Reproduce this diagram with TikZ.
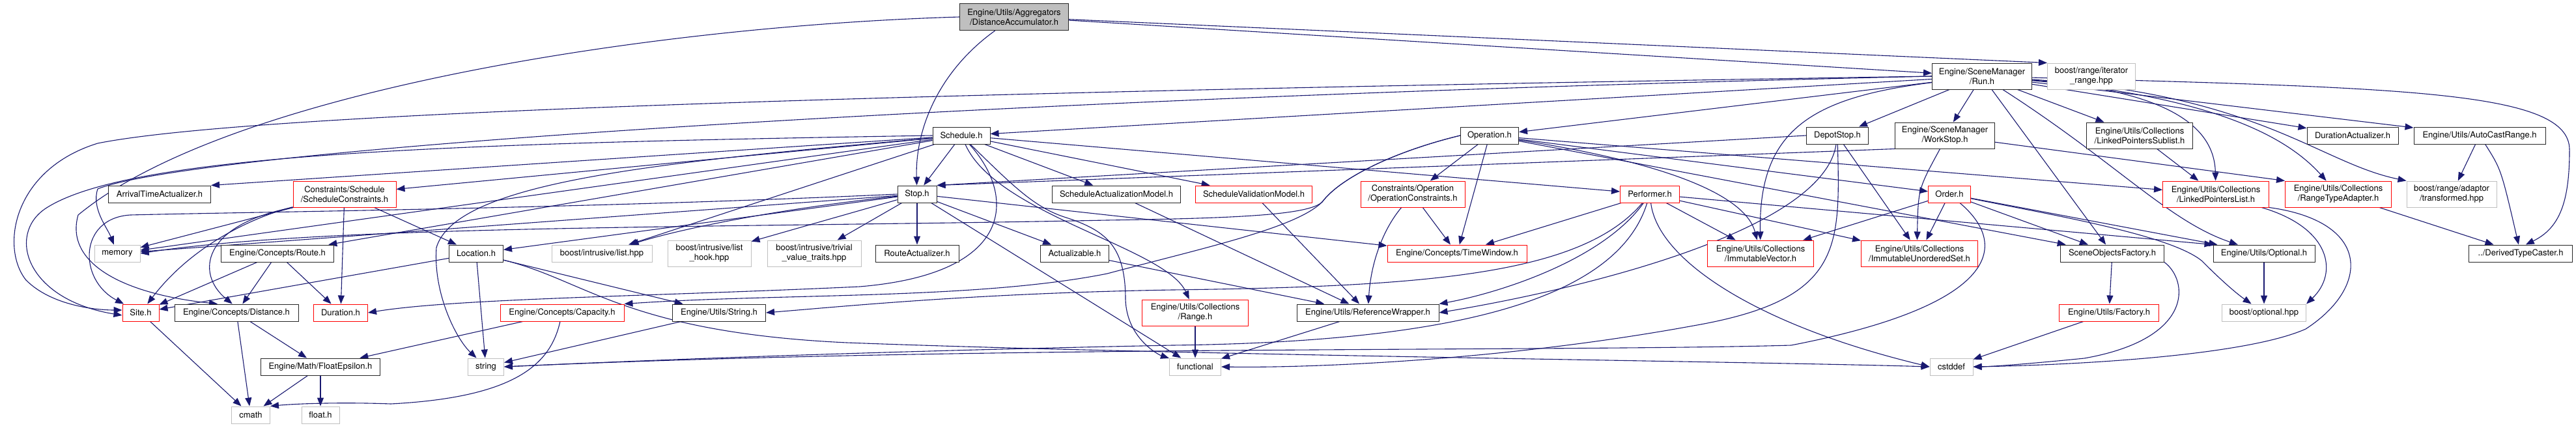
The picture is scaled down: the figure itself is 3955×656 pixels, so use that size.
\documentclass[tikz,border=0pt]{standalone}
\usepackage{fontspec}
\setmainfont{TeX Gyre Heros}
\usepackage{xcolor}
\usepackage{tikz}
\usetikzlibrary{positioning,arrows.meta,backgrounds}

\definecolor{edgeblue}{HTML}{191970}
\definecolor{lightgrey}{HTML}{BFBFBF}

\begin{document}
\begin{tikzpicture}[x=1pt, y=-1pt,
    file/.style={draw=black!85, fill=white, line width=1pt, rectangle, minimum height=26, inner sep=0pt, align=center, font=\fontsize{13}{15}\selectfont},
    tall/.style={minimum height=40},
    redfile/.style={file, draw=red},
    sysfile/.style={file, draw=lightgrey},
    rootfile/.style={file, fill=lightgrey},
    edge/.style={-{Triangle[length=13pt, width=10pt]}, draw=edgeblue, line width=1.1pt}]
    \useasboundingbox (0,0) rectangle (3955,656);

    \node[rootfile, tall, minimum width=167, minimum height=41] (root) at (1557,26) {Engine/Utils/Aggregators\\/DistanceAccumulator.h};
    \node[file, tall, minimum width=153] (run) at (3043,117) {Engine/SceneManager\\/Run.h};
    \node[sysfile, tall, minimum width=135] (iterrange) at (3211,117) {boost/range/iterator\\\_range.hpp};

    \node[file, minimum width=88] (schedule) at (1476,208) {Schedule.h};
    \node[file, minimum width=89] (operation) at (2287,208) {Operation.h};
    \node[file, minimum width=95] (depotstop) at (2821,208) {DepotStop.h};
    \node[file, tall, minimum width=153] (workstop) at (2986,208) {Engine/SceneManager\\/WorkStop.h};
    \node[file, tall, minimum width=163] (sublist) at (3285,208) {Engine/Utils/Collections\\/LinkedPointersSublist.h};
    \node[file, minimum width=140] (duract) at (3612,208) {DurationActualizer.h};
    \node[file, minimum width=202] (autocast) at (3807,208) {Engine/Utils/AutoCastRange.h};

    \node[file, minimum width=157] (arrival) at (245,298) {ArrivalTimeActualizer.h};
    \node[redfile, tall, minimum width=158] (schedcons) at (529,298) {Constraints/Schedule\\/ScheduleConstraints.h};
    \node[file, minimum width=60] (stop) at (1408,298) {Stop.h};
    \node[file, minimum width=197] (schedact) at (1714,298) {ScheduleActualizationModel.h};
    \node[redfile, minimum width=179] (schedval) at (1925,298) {ScheduleValidationModel.h};
    \node[redfile, tall, minimum width=160] (opcons) at (2169,298) {Constraints/Operation\\/OperationConstraints.h};
    \node[redfile, minimum width=91] (performer) at (2533,298) {Performer.h};
    \node[redfile, minimum width=65] (order) at (2993,298) {Order.h};
    \node[redfile, tall, minimum width=163] (ptrlist) at (3402,298) {Engine/Utils/Collections\\/LinkedPointersList.h};
    \node[redfile, tall, minimum width=163] (rangeadapt) at (3590,298) {Engine/Utils/Collections\\/RangeTypeAdapter.h};
    \node[sysfile, tall, minimum width=138] (transformed) at (3764,298) {boost/range/adaptor\\/transformed.hpp};

    \node[sysfile, minimum width=70] (memory) at (180,389) {memory};
    \node[file, minimum width=173] (route) at (426,389) {Engine/Concepts/Route.h};
    \node[file, minimum width=83] (location) at (731,389) {Location.h};
    \node[sysfile, minimum width=154] (listhpp) at (924,389) {boost/intrusive/list.hpp};
    \node[sysfile, tall, minimum width=128] (listhook) at (1089,389) {boost/intrusive/list\\\_hook.hpp};
    \node[sysfile, tall, minimum width=144] (trivial) at (1250,389) {boost/intrusive/trivial\\\_value\_traits.hpp};
    \node[file, minimum width=128] (routeact) at (1408,389) {RouteActualizer.h};
    \node[file, minimum width=105] (actualizable) at (1650,389) {Actualizable.h};
    \node[redfile, minimum width=214] (timewindow) at (2237,389) {Engine/Concepts/TimeWindow.h};
    \node[redfile, tall, minimum width=163] (immvec) at (2703,389) {Engine/Utils/Collections\\/ImmutableVector.h};
    \node[redfile, tall, minimum width=179] (immset) at (2947,389) {Engine/Utils/Collections\\/ImmutableUnorderedSet.h};
    \node[file, minimum width=159] (factoryobj) at (3243,389) {SceneObjectsFactory.h};
    \node[file, minimum width=156] (optional) at (3476,389) {Engine/Utils/Optional.h};
    \node[file, minimum width=159] (caster) at (3870,389) {../DerivedTypeCaster.h};

    \node[redfile, minimum width=56] (site) at (216,480) {Site.h};
    \node[file, minimum width=190] (distance) at (363,480) {Engine/Concepts/Distance.h};
    \node[redfile, minimum width=83] (duration) at (523,480) {Duration.h};
    \node[redfile, minimum width=190] (capacity) at (863,480) {Engine/Concepts/Capacity.h};
    \node[file, minimum width=143] (stringh) at (1104,480) {Engine/Utils/String.h};
    \node[redfile, tall, minimum width=163] (range) at (1835,480) {Engine/Utils/Collections\\/Range.h};
    \node[file, minimum width=218] (refwrap) at (2100,480) {Engine/Utils/ReferenceWrapper.h};
    \node[redfile, minimum width=153] (factory) at (3238,480) {Engine/Utils/Factory.h};
    \node[sysfile, minimum width=129] (boostopt) at (3476,480) {boost/optional.hpp};

    \node[file, minimum width=183] (floateps) at (492,563) {Engine/Math/FloatEpsilon.h};
    \node[sysfile, minimum width=55] (str) at (746,563) {string};
    \node[sysfile, minimum width=79] (functional) at (1835,563) {functional};
    \node[sysfile, minimum width=66] (cstddef) at (2996,563) {cstddef};

    \node[sysfile, minimum width=59] (cmath) at (385,637) {cmath};
    \node[sysfile, minimum width=58] (floath) at (492,637) {float.h};

    \begin{pgfonlayer}{background}
    \draw[edge] (root) -- (run);
    \draw[edge] (root) -- (iterrange.north west);
    \draw[edge] (root) .. controls (1440,110) and (1405,200) .. (stop);
    \draw[edge] (root.west) .. controls (1000,40) and (350,140) .. (120,330) .. controls (100,400) and (180,450) .. (distance.155);

    \draw[edge] (run.west) .. controls (1500,140) and (400,170) .. (150,220) .. controls (20,260) and (0,380) .. (40,430) .. controls (80,470) and (150,476) .. (site.172);
    \draw[edge] (run.west) .. controls (1500,150) and (300,230) .. (150,290) .. controls (140,320) and (165,350) .. (memory);
    \draw[edge] (run) -- (schedule);
    \draw[edge] (run) -- (operation);
    \draw[edge] (run) -- (depotstop);
    \draw[edge] (run) -- (workstop);
    \draw[edge] (run) -- (sublist);
    \draw[edge] (run) .. controls (3340,140) and (3400,200) .. (ptrlist);
    \draw[edge] (run) .. controls (3420,150) and (3520,220) .. (rangeadapt);
    \draw[edge] (run) .. controls (3470,145) and (3560,250) .. (transformed.north west);
    \draw[edge] (run) -- (duract);
    \draw[edge] (run) -- (autocast);
    \draw[edge] (run) .. controls (3700,135) and (3945,140) .. (3945,230) .. controls (3945,310) and (3930,350) .. (caster.60);
    \draw[edge] (run) -- (factoryobj);
    \draw[edge] (run) .. controls (3250,250) and (3330,340) .. (optional);
    \draw[edge] (run) .. controls (2780,150) and (2700,200) .. (immvec);

    \draw[edge] (schedule) -- (arrival.north east);
    \draw[edge] (schedule) -- (schedcons);
    \draw[edge] (schedule) -- (stop);
    \draw[edge] (schedule) -- (schedact);
    \draw[edge] (schedule) -- (schedval);
    \draw[edge] (schedule) -- (performer);
    \draw[edge] (schedule) -- (memory);
    \draw[edge] (schedule) -- (route);
    \draw[edge] (schedule) -- (listhpp);
    \draw[edge] (schedule.west) .. controls (700,220) and (200,235) .. (70,320) .. controls (10,360) and (40,460) .. (site.188);
    \draw[edge] (schedule) .. controls (1560,300) and (1560,420) .. (1320,440) .. controls (1000,455) and (700,458) .. (duration.east);
    \draw[edge] (schedule) .. controls (1530,330) and (1790,380) .. (range);
    \draw[edge] (schedule) .. controls (1560,290) and (1590,320) .. (1640,335) .. controls (1700,355) and (1728,380) .. (1728,460) .. controls (1730,520) and (1780,545) .. (functional);
    \draw[edge] (schedule) .. controls (1000,250) and (700,280) .. (670,380) .. controls (665,450) and (700,520) .. (str);

    \draw[edge] (schedcons) -- (memory);
    \draw[edge] (schedcons) .. controls (400,330) and (300,370) .. (site);
    \draw[edge] (schedcons.south west) .. controls (310,345) and (300,420) .. (distance.115);
    \draw[edge] (schedcons) -- (duration);
    \draw[edge] (schedcons) -- (location);

    \draw[edge] (stop) -- (memory);
    \draw[edge] (stop.west) .. controls (900,320) and (400,325) .. (200,330) .. controls (120,335) and (120,430) .. (site);
    \draw[edge] (stop) -- (location);
    \draw[edge] (stop) .. controls (1200,320) and (1050,350) .. (listhpp);
    \draw[edge] (stop) -- (listhook);
    \draw[edge] (stop) -- (trivial);
    \draw[edge] (stop) -- (routeact);
    \draw[edge] (stop) -- (actualizable);
    \draw[edge] (stop) -- (timewindow);
    \draw[edge] (stop) -- (functional);

    \draw[edge] (operation) -- (opcons);
    \draw[edge] (operation) -- (timewindow);
    \draw[edge] (operation) -- (order);
    \draw[edge] (operation) .. controls (2560,250) and (2680,300) .. (immvec);
    \draw[edge] (operation.west) .. controls (2150,230) and (2060,270) .. (2030,310) .. controls (2010,330) and (1900,335) .. (1700,338) .. controls (1100,350) and (500,345) .. (memory.east);
    \draw[edge] (operation.west) .. controls (2150,230) and (2060,270) .. (2030,310) .. controls (1990,350) and (1850,380) .. (1700,420) .. controls (1500,460) and (1200,450) .. (capacity.north east);
    \draw[edge] (operation) -- (ptrlist);
    \draw[edge] (operation) -- (factoryobj);

    \draw[edge] (opcons) -- (timewindow);
    \draw[edge] (opcons) .. controls (2125,350) and (2105,400) .. (refwrap);

    \draw[edge] (performer) -- (timewindow);
    \draw[edge] (performer) .. controls (2460,400) and (2300,450) .. (refwrap.north east);
    \draw[edge] (performer) .. controls (2430,420) and (2200,440) .. (1800,445) .. controls (1500,450) and (1300,470) .. (stringh.east);
    \draw[edge] (performer) .. controls (2480,470) and (2200,525) .. (1800,530) .. controls (1300,540) and (950,555) .. (str.east);
    \draw[edge] (performer) -- (immvec);
    \draw[edge] (performer) -- (immset);
    \draw[edge] (performer) .. controls (2545,400) and (2700,500) .. (cstddef.west);
    \draw[edge] (performer) -- (optional.north west);

    \draw[edge] (order) -- (immvec);
    \draw[edge] (order) -- (immset);
    \draw[edge] (order) -- (factoryobj);
    \draw[edge] (order) -- (optional);
    \draw[edge] (order) .. controls (3150,330) and (3330,360) .. (3380,400) .. controls (3420,440) and (3440,455) .. (boostopt);
    \draw[edge] (order) .. controls (3090,380) and (3060,470) .. (2750,530) .. controls (2400,540) and (1500,530) .. (str.east);

    \draw[edge] (depotstop.west) -- (stop.north east);
    \draw[edge] (depotstop) -- (immset);
    \draw[edge] (depotstop) .. controls (2800,350) and (2450,440) .. (refwrap.east);
    \draw[edge] (depotstop) .. controls (2825,380) and (2830,460) .. (2600,500) .. controls (2300,555) and (2000,565) .. (functional.east);

    \draw[edge] (workstop.south west) -- (stop.north east);
    \draw[edge] (workstop.250) .. controls (2945,290) .. (immset.100);
    \draw[edge] (workstop) -- (rangeadapt.north west);

    \draw[edge] (sublist) -- (ptrlist);
    \draw[edge] (ptrlist.south east) .. controls (3640,340) and (3640,440) .. (3540,505) .. controls (3450,545) and (3200,560) .. (cstddef.east);
    \draw[edge] (ptrlist) .. controls (3580,350) and (3590,420) .. (boostopt.north east);
    \draw[edge] (rangeadapt) -- (caster);
    \draw[edge] (autocast) -- (transformed);
    \draw[edge] (autocast) .. controls (3840,260) .. (caster);

    \draw[edge] (factoryobj) -- (factory);
    \draw[edge] (factoryobj.south east) .. controls (3360,430) and (3370,520) .. (3200,550) .. controls (3100,560) and (3050,563) .. (cstddef.east);
    \draw[edge] (factory) -- (cstddef);
    \draw[edge] (optional) -- (boostopt);

    \draw[edge] (route) -- (site);
    \draw[edge] (route) -- (distance);
    \draw[edge] (route) -- (duration);
    \draw[edge] (location) -- (site);
    \draw[edge] (location) -- (stringh);
    \draw[edge] (location) -- (str);
    \draw[edge] (location) .. controls (900,430) and (960,510) .. (1300,526) .. controls (1800,545) and (2700,555) .. (cstddef.west);

    \draw[edge] (schedact) -- (refwrap);
    \draw[edge] (schedval) -- (refwrap);
    \draw[edge] (actualizable) -- (refwrap);
    \draw[edge] (refwrap) -- (functional);
    \draw[edge] (range) -- (functional);
    \draw[edge] (stringh) -- (str);

    \draw[edge] (site) -- (cmath);
    \draw[edge] (distance) -- (cmath);
    \draw[edge] (distance) -- (floateps);
    \draw[edge] (floateps) -- (cmath);
    \draw[edge] (floateps) -- (floath);
    \draw[edge] (capacity) -- (floateps);
    \draw[edge] (capacity) .. controls (845,560) and (790,610) .. (600,620) .. controls (520,617) and (450,620) .. (cmath.north east);
    \end{pgfonlayer}
\end{tikzpicture}
\end{document}
